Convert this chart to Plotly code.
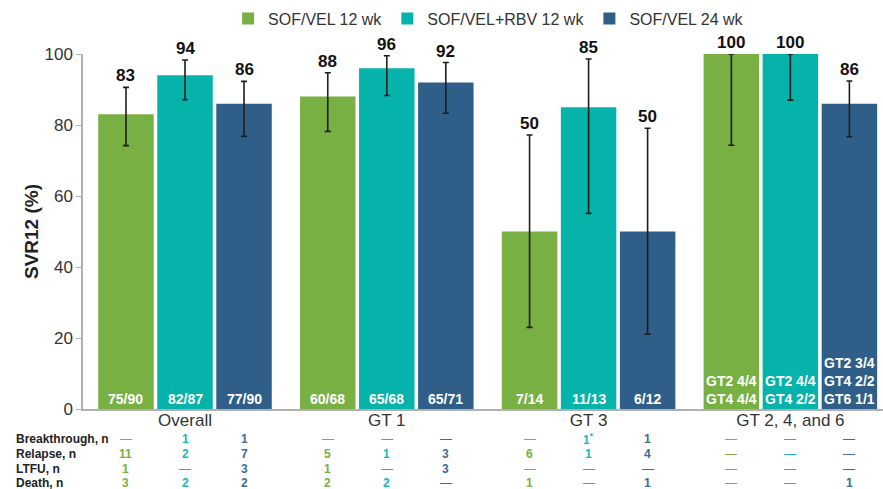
import plotly.graph_objects as go

# SVR12 by genotype and regimen
groups = ["Overall", "GT 1", "GT 3", "GT 2, 4, and 6"]
series_names = ["SOF/VEL 12 wk", "SOF/VEL+RBV 12 wk", "SOF/VEL 24 wk"]
colors = ["#78b043", "#05b3aa", "#2f5f88"]
table_colors = ["#78b043", "#19b5c0", "#3a6c9c"]

svr_sofvel12 = [83, 88, 50, 100]
svr_sofvel_rbv12 = [94, 96, 85, 100]
svr_sofvel24 = [86, 92, 50, 86]

ci_upper_sofvel12 = [90.6, 94.7, 77.2, 100]
ci_lower_sofvel12 = [74.2, 78.2, 23.0, 74.3]
ci_upper_sofvel_rbv12 = [98.3, 99.5, 98.6, 100]
ci_lower_sofvel_rbv12 = [87.1, 88.3, 55.1, 87.0]
ci_upper_sofvel24 = [92.3, 97.6, 79.1, 92.4]
ci_lower_sofvel24 = [76.8, 83.3, 21.1, 76.7]

n_labels_sofvel12 = ["75/90", "60/68", "7/14", "GT2 4/4<br>GT4 4/4"]
n_labels_sofvel_rbv12 = ["82/87", "65/68", "11/13", "GT2 4/4<br>GT4 2/2"]
n_labels_sofvel24 = ["77/90", "65/71", "6/12", "GT2 3/4<br>GT4 2/2<br>GT6 1/1"]

# Virologic outcome table (one list per row, per group, per regimen)
table_rows = ["Breakthrough, n", "Relapse, n", "LTFU, n", "Death, n"]
breakthrough = [["—", "1", "1"], ["—", "—", "—"], ["—", "1<sup>*</sup>", "1"], ["—", "—", "—"]]
relapse = [["11", "2", "7"], ["5", "1", "3"], ["6", "1", "4"], ["—", "—", "—"]]
ltfu = [["1", "—", "3"], ["1", "—", "3"], ["—", "—", "—"], ["—", "—", "—"]]
death = [["3", "2", "2"], ["2", "2", "—"], ["1", "—", "1"], ["—", "—", "1"]]

FONT = "Liberation Sans, Arial, sans-serif"

values = [svr_sofvel12, svr_sofvel_rbv12, svr_sofvel24]
uppers = [ci_upper_sofvel12, ci_upper_sofvel_rbv12, ci_upper_sofvel24]
lowers = [ci_lower_sofvel12, ci_lower_sofvel_rbv12, ci_lower_sofvel24]
n_labels = [n_labels_sofvel12, n_labels_sofvel_rbv12, n_labels_sofvel24]

BARGAP = 0.1225
slot = (1 - BARGAP) / 3

fig = go.Figure()
for k in range(3):
    v = values[k]
    fig.add_trace(go.Bar(
        x=groups, y=v, name=series_names[k],
        marker=dict(color=colors[k], line=dict(width=0)),
        error_y=dict(type="data", symmetric=False,
                     array=[u - a for u, a in zip(uppers[k], v)],
                     arrayminus=[a - l for a, l in zip(v, lowers[k])],
                     color="#1e1e1e", thickness=1.6, width=3),
        cliponaxis=False,
    ))

annotations = []
for k in range(3):
    for i in range(len(groups)):
        xc = i + (k - 1) * slot
        # value label above the CI whisker
        annotations.append(dict(
            x=xc, y=uppers[k][i], xref="x", yref="y", text=f"<b>{values[k][i]}</b>",
            showarrow=False, yanchor="bottom", yshift=0,
            font=dict(family=FONT, size=17, color="#111111")))
        # n/N inside the bar base
        annotations.append(dict(
            x=xc, y=0, xref="x", yref="y", text=f"<b>{n_labels[k][i]}</b>",
            showarrow=False, yanchor="bottom", yshift=0,
            font=dict(family=FONT, size=14, color="white")))

# outcome table below the axis
row_y = [-0.0845, -0.1268, -0.1690, -0.2085]
for r, (label, data) in enumerate(zip(table_rows, [breakthrough, relapse, ltfu, death])):
    annotations.append(dict(
        x=-0.0865, y=row_y[r], xref="paper", yref="paper", text=f"<b>{label}</b>",
        showarrow=False, xanchor="left", yanchor="middle",
        font=dict(family=FONT, size=12, color="#222222")))
    for i in range(len(groups)):
        for k in range(3):
            cell = data[i][k]
            txt = cell if cell == "—" else f"<b>{cell}</b>"
            annotations.append(dict(
                x=i + (k - 1) * slot, y=row_y[r], xref="x", yref="paper",
                text=txt, showarrow=False, yanchor="middle",
                font=dict(family=FONT, size=12, color=table_colors[k])))

fig.update_layout(
    width=883, height=489,
    margin=dict(l=83, r=0, t=54, b=80),
    paper_bgcolor="white", plot_bgcolor="white",
    barmode="group", bargap=BARGAP, bargroupgap=0.06,
    font=dict(family=FONT, color="#333333"),
    showlegend=True,
    legend=dict(orientation="h", x=0.507, xanchor="center", y=1.10, yanchor="middle",
                font=dict(family=FONT, size=16, color="#333333"),
                bgcolor="rgba(0,0,0,0)"),
    annotations=annotations,
)
fig.update_xaxes(
    range=[-0.5055, 3.459], showline=True, linecolor="#b0b0b0", linewidth=1.5,
    ticks="", tickfont=dict(family=FONT, size=17, color="#333333"),
    ticklabelstandoff=-5,
    showgrid=False, zeroline=False,
)
fig.update_yaxes(
    range=[0, 100], tickvals=[0, 20, 40, 60, 80, 100], showline=True,
    linecolor="#b0b0b0", linewidth=1.5, ticks="outside", ticklen=5, tickcolor="#b0b0b0",
    tickfont=dict(family=FONT, size=17, color="#333333"),
    showgrid=False, zeroline=False,
    title=dict(text="<b>SVR12 (%)</b>", font=dict(family=FONT, size=19, color="#222222"),
               standoff=1),
)

fig.write_html("out.html")
